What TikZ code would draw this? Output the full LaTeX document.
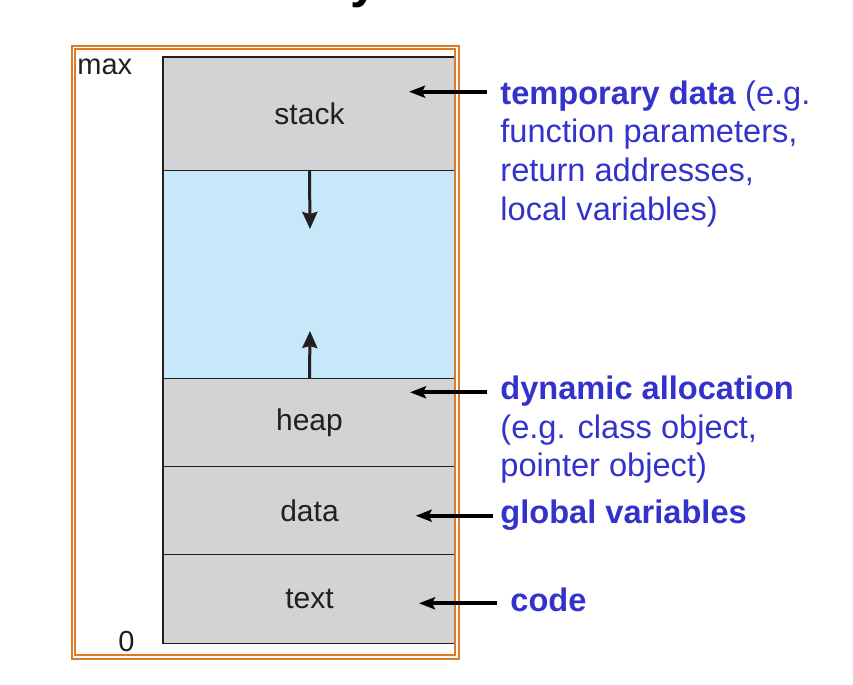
\documentclass[tikz,border=0pt]{standalone}
\usepackage{fontspec}
\setmainfont{Liberation Sans}
\usetikzlibrary{positioning}
\usetikzlibrary{arrows.meta}
\definecolor{segfill}{RGB}{209,211,212}
\definecolor{freefill}{RGB}{199,232,249}
\definecolor{labelblue}{RGB}{51,51,204}
\definecolor{frameorange}{RGB}{221,122,35}
\definecolor{inkgray}{RGB}{35,31,32}

\begin{document}
\begin{tikzpicture}[x=0.5pt, y=-0.5pt,
node distance = 0pt,
seg/.style={rectangle, draw=inkgray, line width=0.6pt, fill=segfill, outer sep=0pt, minimum width=146.5pt, text=inkgray, font=\fontsize{15}{18}\selectfont},
holdnote/.style={anchor=base west, align=left, inner sep=0pt, text=labelblue, font=\fontsize{16.3}{19.3}\selectfont},
endlabel/.style={anchor=base west, inner sep=0pt, text=inkgray, font=\fontsize{14.5}{17}\selectfont},
growarrow/.style={-{Stealth[length=8.5pt,width=7.5pt,inset=1pt]}, line width=1.5pt, draw=inkgray, fill=inkgray},
pointarrow/.style={-{Stealth[length=8pt,width=6pt,inset=1.5pt]}, line width=2pt},
frameline/.style={draw=frameorange, double=white, double distance=0.7pt, line width=1pt}]
\useasboundingbox (0,0) rectangle (853,685);
% cut-off title
\node [anchor=base west, inner sep=0pt, font=\fontsize{25}{30}\selectfont\bfseries] (ttl) at (350,-3) {y};
% memory column
\node [seg, minimum height=56.75pt] (stack) at (309.5,113.75) {stack};
\node [seg, fill=freefill, minimum height=103.9pt, below=of stack] (free) {};
\node [seg, minimum height=44.1pt, below=of free] (heap) {heap};
\node [seg, minimum height=43.9pt, below=of heap] (data) {data};
\node [seg, minimum height=44.5pt, below=of data] (txtseg) {text};
\coordinate (sdown) at (310,229);
\coordinate (hup) at (310,331);
\draw [growarrow] (stack.south) -- (sdown);
\draw [growarrow] (heap.north) -- (hup);
\node [endlabel] (max) at (77,75) {max};
\node [endlabel] (zero) at (118,651.7) {0};
\draw [frameline] (73.7,47.2) rectangle (456.8,656.8);
% what each part holds
\node [holdnote] (tmp) at (500,220) {\textbf{temporary data} (e.g.\\function parameters,\\return addresses,\\local variables)};
\node [holdnote] (dyn) at (500,476.7) {\textbf{dynamic allocation}\\(e.g. class object,\\pointer object)};
\node [holdnote] (glb) at (500,523.3) {\textbf{global variables}};
\node [holdnote] (cod) at (510,611.7) {\textbf{code}};
\coordinate (tmp-tail) at (487,91.7);
\coordinate (tmp-head) at (409,91.7);
\coordinate (dyn-tail) at (487,392.3);
\coordinate (dyn-head) at (410,392.3);
\coordinate (glb-tail) at (493,515.7);
\coordinate (glb-head) at (415.7,515.7);
\coordinate (cod-tail) at (497,603.3);
\coordinate (cod-head) at (419,603.3);
\draw [pointarrow] (tmp-tail) -- (tmp-head);
\draw [pointarrow] (dyn-tail) -- (dyn-head);
\draw [pointarrow] (glb-tail) -- (glb-head);
\draw [pointarrow] (cod-tail) -- (cod-head);
\end{tikzpicture}
\end{document}
